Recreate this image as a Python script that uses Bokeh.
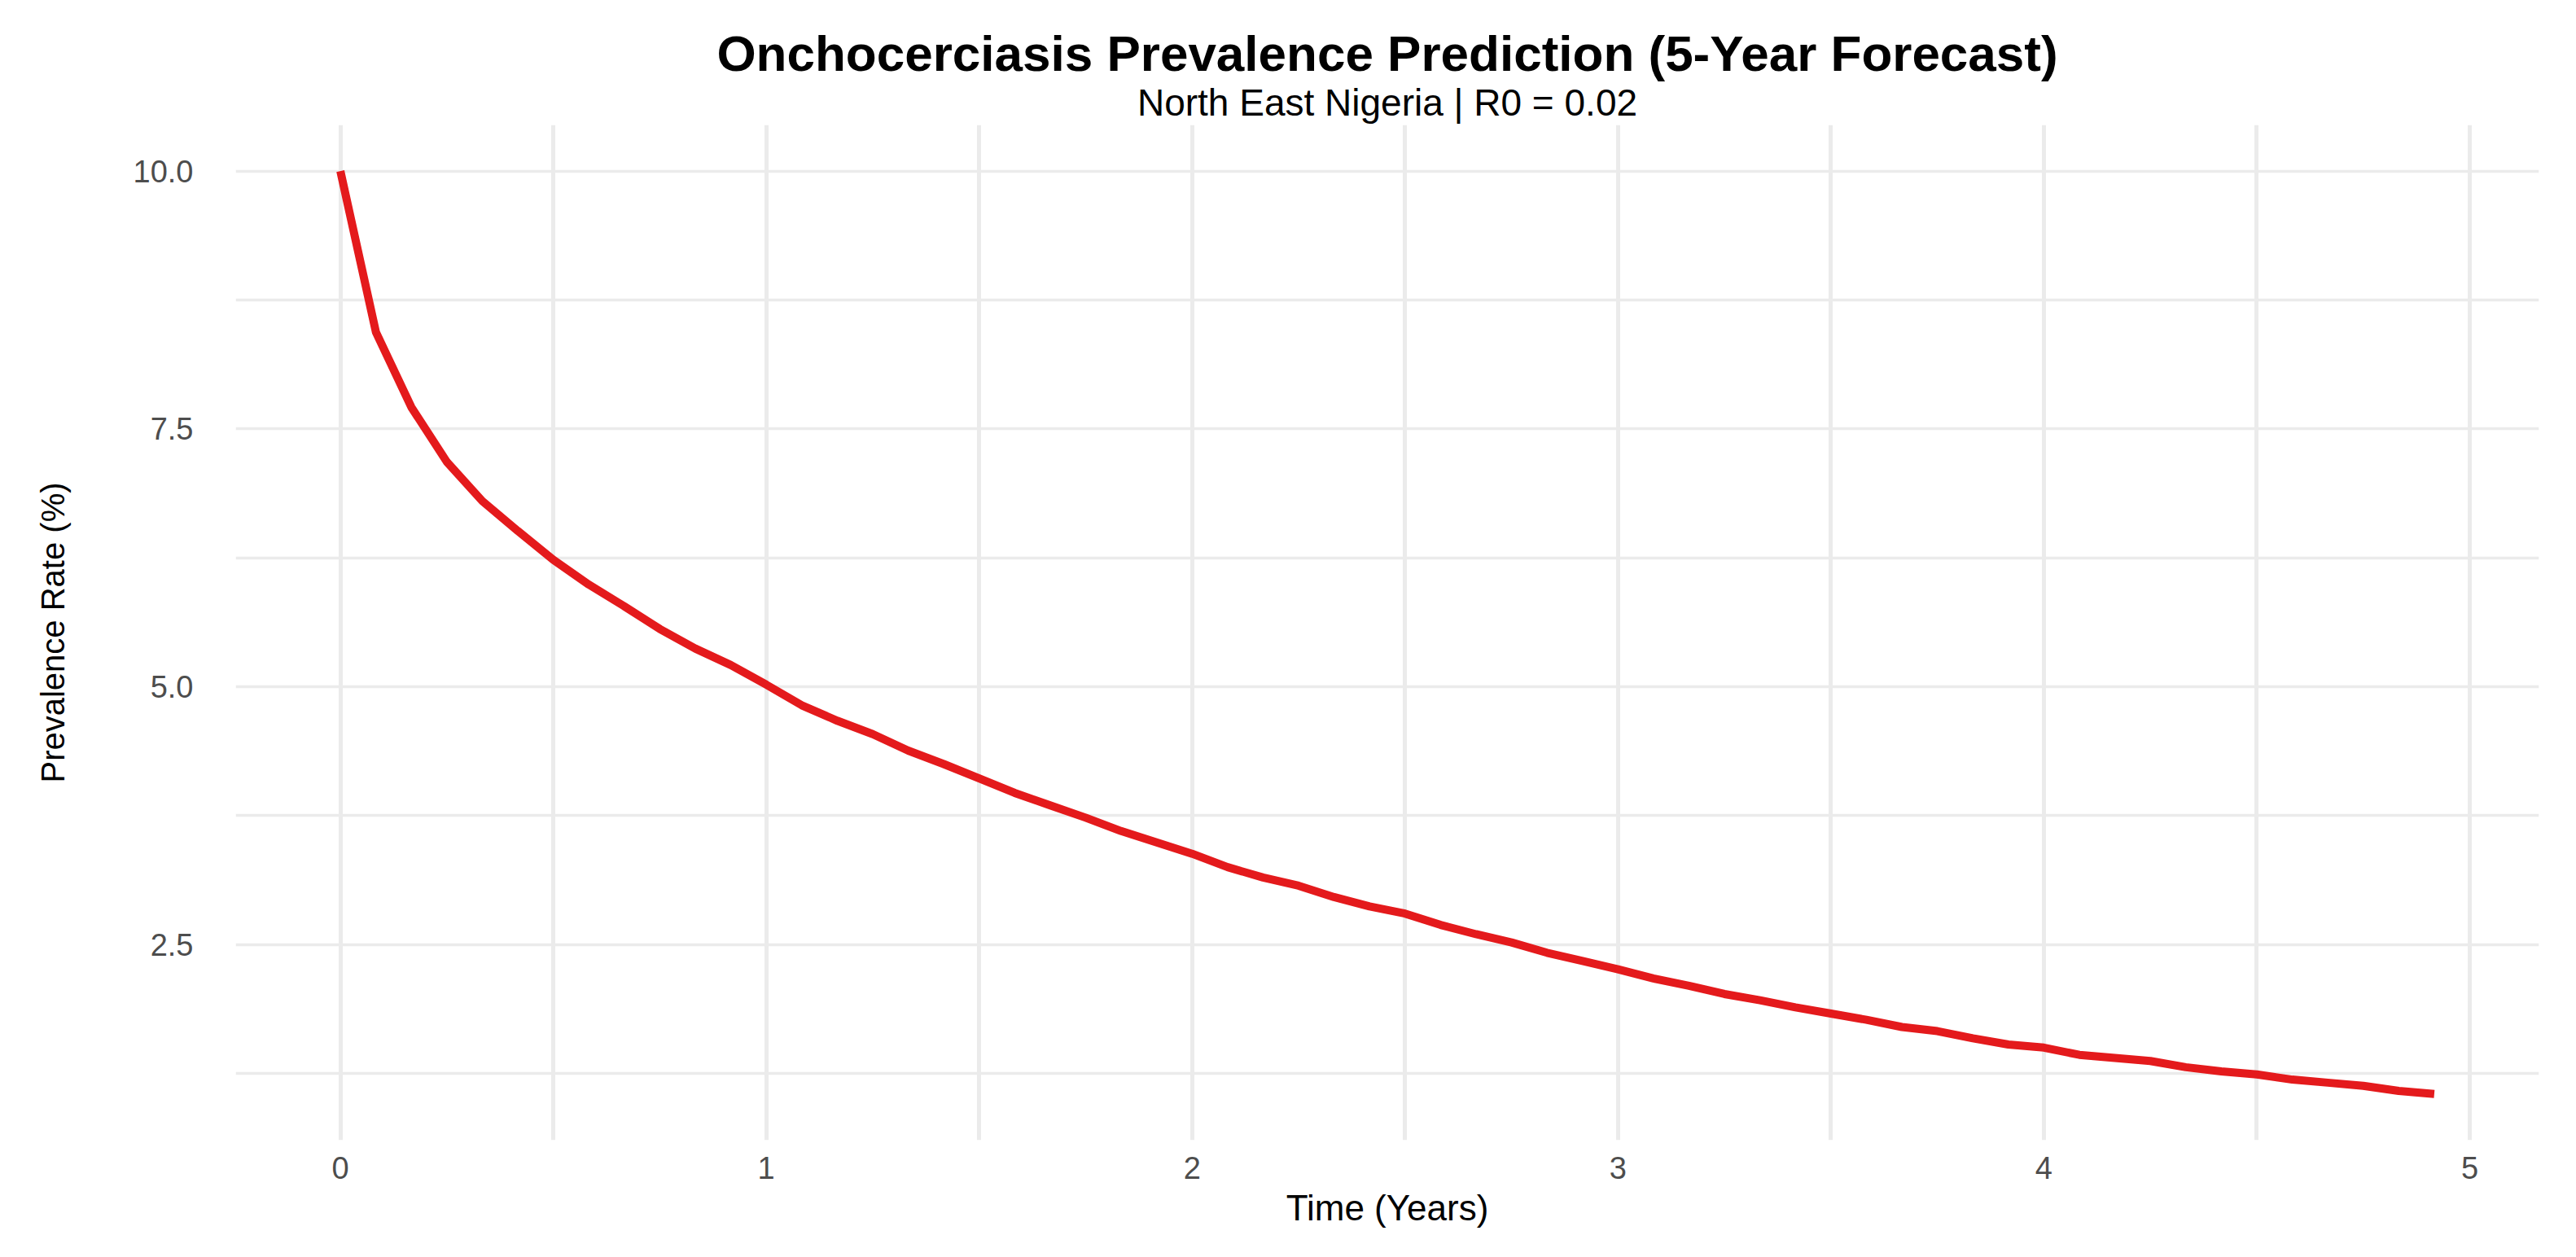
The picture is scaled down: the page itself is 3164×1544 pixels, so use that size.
from bokeh.plotting import figure
from bokeh.models import Range1d, FixedTicker, PrintfTickFormatter, Title
from bokeh.embed import file_html
from bokeh.resources import INLINE

# monthly forecast
time_years = [m / 12 for m in range(60)]
prevalence = [
    10.00, 8.44, 7.71, 7.18, 6.80, 6.51, 6.23, 5.99, 5.78, 5.56, 5.37, 5.21,
    5.02, 4.82, 4.67, 4.54, 4.38, 4.25, 4.11, 3.97, 3.85, 3.73, 3.60, 3.49,
    3.38, 3.25, 3.15, 3.07, 2.96, 2.87, 2.80, 2.69, 2.60, 2.52, 2.42, 2.34,
    2.26, 2.17, 2.10, 2.02, 1.96, 1.89, 1.83, 1.77, 1.70, 1.66, 1.59, 1.53,
    1.50, 1.43, 1.40, 1.37, 1.31, 1.27, 1.24, 1.19, 1.16, 1.13, 1.08, 1.05,
]
x_ticks = [0, 1, 2, 3, 4, 5]
x_minor = [0.5, 1.5, 2.5, 3.5, 4.5]
y_ticks = [2.5, 5.0, 7.5, 10.0]
y_minor = [1.25, 3.75, 6.25, 8.75]

FONT = "Liberation Sans"
GRID = "#EBEBEB"

x_pad = (max(time_years) - min(time_years)) * 0.05
y_pad = (max(prevalence) - min(prevalence)) * 0.05

p = figure(
    frame_width=2829,
    frame_height=1247,
    min_border_left=289,
    min_border_right=30,
    min_border_top=153,
    min_border_bottom=128,
    x_range=Range1d(min(time_years) - x_pad, max(time_years) + x_pad),
    y_range=Range1d(min(prevalence) - y_pad, max(prevalence) + y_pad),
    output_backend="svg",
    toolbar_location=None,
    title=None,
)
p.outline_line_color = None
p.background_fill_color = "white"
p.border_fill_color = "white"

p.add_layout(Title(text="North East Nigeria | R0 = 0.02", align="center",
                   text_font=FONT, text_font_size="46px", text_font_style="normal",
                   text_color="black", standoff=0, vertical_align="top"), "above")
p.add_layout(Title(text="Onchocerciasis Prevalence Prediction (5-Year Forecast)",
                   align="center", text_font=FONT, text_font_size="62px",
                   text_font_style="bold", text_color="black", standoff=0,
                   vertical_align="bottom"), "above")
# empty spacer that pushes the heading down a little
p.add_layout(Title(text="", standoff=14), "above")

p.line(time_years, prevalence, line_color="#E41A1C", line_width=10)

p.xaxis.ticker = FixedTicker(ticks=x_ticks, minor_ticks=x_minor)
p.yaxis.ticker = FixedTicker(ticks=y_ticks, minor_ticks=y_minor)
p.yaxis.formatter = PrintfTickFormatter(format="%.1f")
p.xaxis.formatter = PrintfTickFormatter(format="%d")

p.xaxis.axis_label = "Time (Years)"
p.yaxis.axis_label = "Prevalence Rate (%)"

for ax in (p.xaxis, p.yaxis):
    ax.axis_line_color = None
    ax.major_tick_line_color = None
    ax.minor_tick_line_color = None
    ax.major_label_text_font = FONT
    ax.major_label_text_font_size = "38px"
    ax.major_label_text_color = "#4D4D4D"
    ax.axis_label_text_font = FONT
    ax.axis_label_text_font_style = "normal"
    ax.axis_label_text_color = "black"

p.xaxis.axis_label_text_font_size = "44px"
p.yaxis.axis_label_text_font_size = "40px"
p.xaxis.major_label_standoff = 14
p.xaxis.axis_label_standoff = 8
p.yaxis.major_label_standoff = 46
p.yaxis.axis_label_standoff = 74

p.xgrid.grid_line_color = GRID
p.xgrid.grid_line_width = 5
p.xgrid.minor_grid_line_color = GRID
p.xgrid.minor_grid_line_width = 5
p.ygrid.grid_line_color = GRID
p.ygrid.grid_line_width = 3.5
p.ygrid.minor_grid_line_color = GRID
p.ygrid.minor_grid_line_width = 3.5

open("out.html", "w").write(file_html(p, INLINE))
